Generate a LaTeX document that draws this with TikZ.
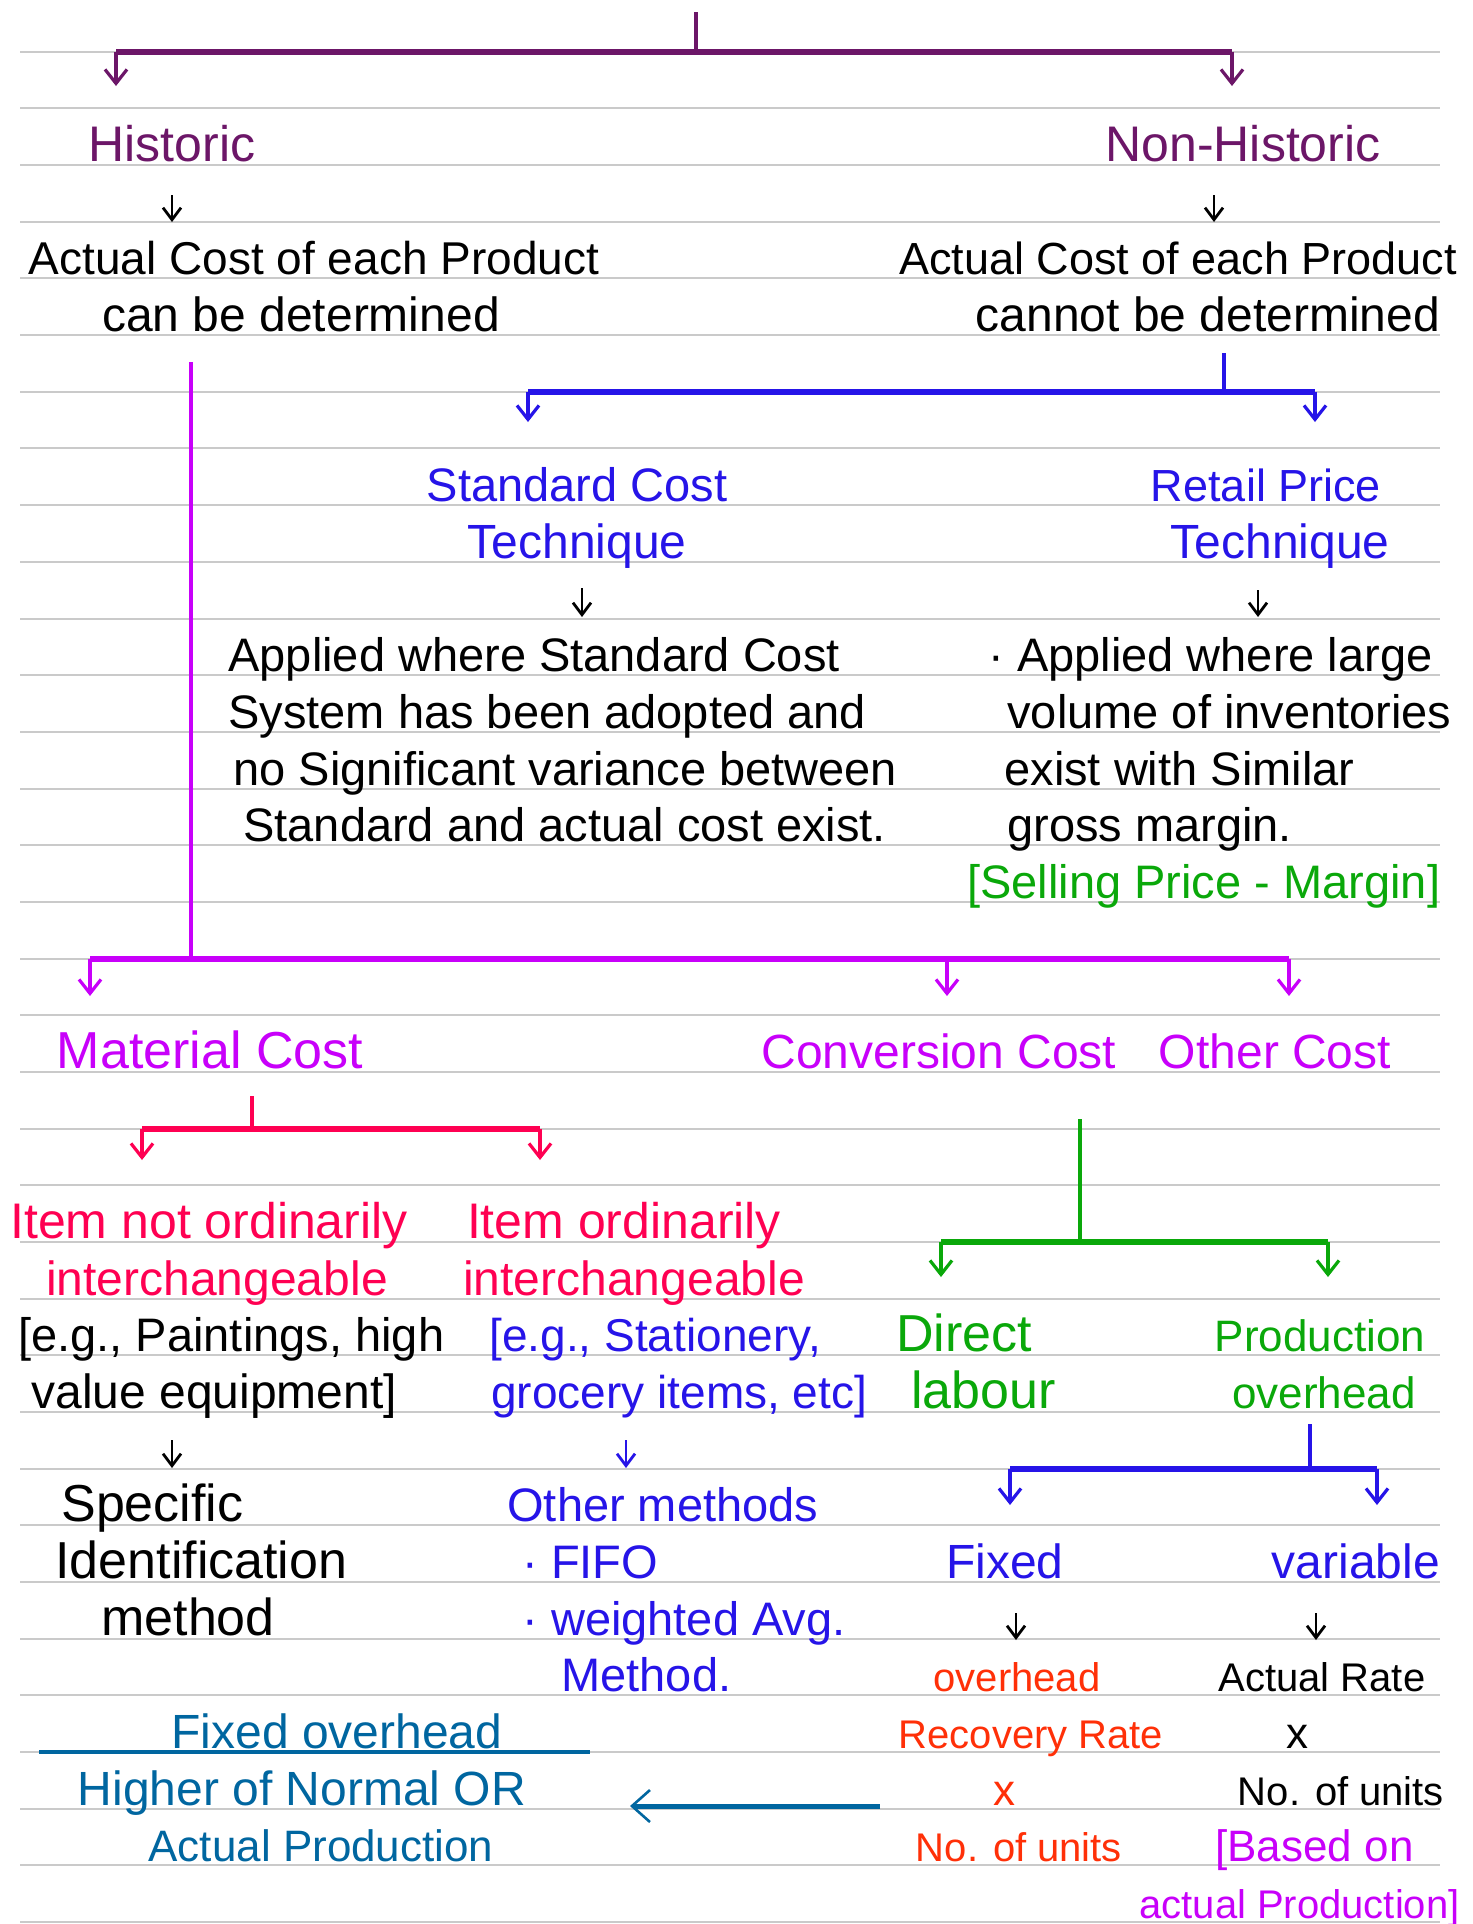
\documentclass[tikz,border=0pt]{standalone}
\usepackage{fontspec}
\setmainfont{Liberation Sans}
\usetikzlibrary{arrows.meta}
\newcommand\handsize[1]{\fontsize{#1}{#1}\selectfont}
\definecolor{rulegray}{RGB}{202,202,202}
\definecolor{plum}{RGB}{108,22,104}
\definecolor{inkblue}{RGB}{38,20,232}
\definecolor{inkviolet}{RGB}{200,0,250}
\definecolor{inkpink}{RGB}{255,0,82}
\definecolor{inkgreen}{RGB}{10,168,10}
\definecolor{inkred}{RGB}{255,48,8}
\definecolor{inksteel}{RGB}{0,102,160}
\tikzstyle{ruling}=[draw=rulegray, line width=1pt]
\tikzstyle{stem}=[line width=1.6pt]
\tikzstyle{bar}=[line width=3pt]
\tikzstyle{branch}=[line width=1.6pt, -{Straight Barb[length=7pt,width=11pt]}]
\tikzstyle{pointer}=[line width=1.4pt, -{Straight Barb[length=6pt,width=9pt]}]
\tikzstyle{note}=[inner sep=0pt, anchor=base, font=\handsize{24}]
\tikzstyle{left note}=[note, anchor=base west]

\begin{document}
\begin{tikzpicture}[x=0.5pt, y=-0.5pt]
  \fill[white] (0,0) rectangle (1473,1924);
  \useasboundingbox (0,0) rectangle (1473,1924);
  % ruled page
  \foreach \k in {0,...,33}
    \draw[ruling] (20,51.7+56.68*\k) -- (1440,51.7+56.68*\k);

  % historic / non-historic split
  \coordinate (root) at (696,12);
  \coordinate (root bar) at (696,51.7);
  \coordinate (hist bar) at (116,51.7);
  \coordinate (hist tip) at (116,86);
  \coordinate (nonhist bar) at (1232,51.7);
  \coordinate (nonhist tip) at (1232,86);
  \draw[plum, stem] (root) -- (root bar);
  \draw[plum, bar] (hist bar) -- (nonhist bar);
  \draw[plum, branch] (hist bar) -- (hist tip);
  \draw[plum, branch] (nonhist bar) -- (nonhist tip);

  \node[note, plum, font=\handsize{25}] (hist) at (172,161) {Historic};
  \node[note, plum, font=\handsize{25}] (nonhist) at (1243,161) {Non-Historic};
  \coordinate (hist ptr) at (172,195);
  \coordinate (hist ptr tip) at (172,222);
  \coordinate (nonhist ptr) at (1214,195);
  \coordinate (nonhist ptr tip) at (1214,222);
  \draw[pointer] (hist ptr) -- (hist ptr tip);
  \draw[pointer] (nonhist ptr) -- (nonhist ptr tip);

  \node[note, font=\handsize{23}] (hist cost) at (314,274) {Actual Cost of each Product};
  \node[note] (hist can) at (301,331) {can be determined};
  \node[note, font=\handsize{22.5}] (nonhist cost) at (1178,274) {Actual Cost of each Product};
  \node[note] (nonhist cannot) at (1208,331) {cannot be determined};

  % techniques
  \coordinate (tech root) at (1224,353);
  \coordinate (tech bar) at (1224,391.8);
  \coordinate (std bar) at (528,391.8);
  \coordinate (std tip) at (528,422);
  \coordinate (ret bar) at (1315,391.8);
  \coordinate (ret tip) at (1315,422);
  \draw[inkblue, stem] (tech root) -- (tech bar);
  \draw[inkblue, bar] (std bar) -- (ret bar);
  \draw[inkblue, branch] (std bar) -- (std tip);
  \draw[inkblue, branch] (ret bar) -- (ret tip);

  \node[note, inkblue, font=\handsize{23.5}] (std name) at (577,501) {Standard Cost};
  \node[note, inkblue] (std tech) at (577,558) {Technique};
  \node[note, inkblue, font=\handsize{22.5}] (ret name) at (1266,501) {Retail Price};
  \node[note, inkblue] (ret tech) at (1280,558) {Technique};
  \coordinate (std ptr) at (582,588);
  \coordinate (std ptr tip) at (582,617);
  \coordinate (ret ptr) at (1258,590);
  \coordinate (ret ptr tip) at (1258,617);
  \draw[pointer] (std ptr) -- (std ptr tip);
  \draw[pointer] (ret ptr) -- (ret ptr tip);

  \node[left note, font=\handsize{23.5}] (std line 1) at (228,671) {Applied where Standard Cost};
  \node[left note, font=\handsize{23.5}] (std line 2) at (228,728) {System has been adopted and};
  \node[left note, font=\handsize{23.5}] (std line 3) at (233,785) {no Significant variance between};
  \node[left note, font=\handsize{23.5}] (std line 4) at (243,841) {Standard and actual cost exist.};
  \node[left note, font=\handsize{23.5}] (ret line 1) at (988,671) {· Applied where large};
  \node[left note, font=\handsize{23.5}] (ret line 2) at (1007,728) {volume of inventories};
  \node[left note, font=\handsize{23.5}] (ret line 3) at (1004,785) {exist with Similar};
  \node[left note, font=\handsize{23.5}] (ret line 4) at (1007,841) {gross margin.};
  \node[left note, inkgreen, font=\handsize{23.5}] (ret margin) at (967,898) {[Selling Price - Margin]};

  % cost heads
  \coordinate (cost root) at (191,362);
  \coordinate (cost bar) at (191,958.6);
  \coordinate (mat bar) at (90,958.6);
  \coordinate (mat tip) at (90,996);
  \coordinate (conv bar) at (947,958.6);
  \coordinate (conv tip) at (947,996);
  \coordinate (oth bar) at (1289,958.6);
  \coordinate (oth tip) at (1289,996);
  \draw[inkviolet, stem] (cost root) -- (cost bar);
  \draw[inkviolet, bar] (mat bar) -- (oth bar);
  \draw[inkviolet, branch] (mat bar) -- (mat tip);
  \draw[inkviolet, branch] (conv bar) -- (conv tip);
  \draw[inkviolet, branch] (oth bar) -- (oth tip);

  \node[note, inkviolet, font=\handsize{26}] (mat) at (210,1068) {Material Cost};
  \node[note, inkviolet] (conv) at (939,1068) {Conversion Cost};
  \node[note, inkviolet] (oth) at (1275,1068) {Other Cost};

  % material cost
  \coordinate (item root) at (252,1096);
  \coordinate (item bar) at (252,1128.6);
  \coordinate (notord bar) at (142,1128.6);
  \coordinate (notord tip) at (142,1160);
  \coordinate (ord bar) at (540,1128.6);
  \coordinate (ord tip) at (540,1160);
  \draw[inkpink, stem] (item root) -- (item bar);
  \draw[inkpink, bar] (notord bar) -- (ord bar);
  \draw[inkpink, branch] (notord bar) -- (notord tip);
  \draw[inkpink, branch] (ord bar) -- (ord tip);

  \node[note, inkpink, font=\handsize{25}] (notord 1) at (209,1238) {Item not ordinarily};
  \node[note, inkpink] (notord 2) at (217,1295) {interchangeable};
  \node[note, inkpink, font=\handsize{25}] (ord 1) at (624,1238) {Item ordinarily};
  \node[note, inkpink] (ord 2) at (634,1295) {interchangeable};
  \node[left note, font=\handsize{23.5}] (paint 1) at (18,1351) {[e.g., Paintings, high};
  \node[left note] (paint 2) at (31,1408) {value equipment]};
  \node[left note, inkblue, font=\handsize{23}] (groc 1) at (489,1351) {[e.g., Stationery,};
  \node[left note, inkblue, font=\handsize{23}] (groc 2) at (491,1408) {grocery items, etc]};
  \coordinate (paint ptr) at (172,1440);
  \coordinate (paint ptr tip) at (172,1468);
  \coordinate (groc ptr) at (626,1440);
  \coordinate (groc ptr tip) at (626,1468);
  \draw[pointer] (paint ptr) -- (paint ptr tip);
  \draw[pointer, inkblue] (groc ptr) -- (groc ptr tip);

  \node[left note, font=\handsize{26}] (spec 1) at (61,1521) {Specific};
  \node[left note, font=\handsize{26}] (spec 2) at (55,1578) {Identification};
  \node[left note, font=\handsize{26}] (spec 3) at (101,1635) {method};
  \node[left note, inkblue, font=\handsize{23.5}] (other 1) at (507,1521) {Other methods};
  \node[left note, inkblue, font=\handsize{23.5}] (other 2) at (522,1578) {· FIFO};
  \node[left note, inkblue, font=\handsize{23.5}] (other 3) at (522,1635) {· weighted Avg.};
  \node[left note, inkblue, font=\handsize{23.5}] (other 4) at (561,1691) {Method.};

  % conversion cost
  \coordinate (conv root) at (1080,1119);
  \coordinate (conv split) at (1080,1242);
  \coordinate (dl bar) at (941,1242);
  \coordinate (dl tip) at (941,1277);
  \coordinate (po bar) at (1328,1242);
  \coordinate (po tip) at (1328,1277);
  \draw[inkgreen, stem] (conv root) -- (conv split);
  \draw[inkgreen, bar] (dl bar) -- (po bar);
  \draw[inkgreen, branch] (dl bar) -- (dl tip);
  \draw[inkgreen, branch] (po bar) -- (po tip);

  \node[left note, inkgreen, font=\handsize{26}] (dl 1) at (896,1351) {Direct};
  \node[left note, inkgreen, font=\handsize{26}] (dl 2) at (911,1408) {labour};
  \node[note, inkgreen, font=\handsize{22}] (po 1) at (1320,1351) {Production};
  \node[note, inkgreen, font=\handsize{22}] (po 2) at (1324,1408) {overhead};

  % production overhead
  \coordinate (po root) at (1310,1424);
  \coordinate (po split) at (1310,1468.7);
  \coordinate (fix bar) at (1010,1468.7);
  \coordinate (fix tip) at (1010,1505);
  \coordinate (var bar) at (1377,1468.7);
  \coordinate (var tip) at (1377,1505);
  \draw[inkblue, stem] (po root) -- (po split);
  \draw[inkblue, bar] (fix bar) -- (var bar);
  \draw[inkblue, branch] (fix bar) -- (fix tip);
  \draw[inkblue, branch] (var bar) -- (var tip);

  \node[note, inkblue] (fix) at (1005,1578) {Fixed};
  \node[note, inkblue] (var) at (1356,1578) {variable};
  \coordinate (fix ptr) at (1016,1613);
  \coordinate (fix ptr tip) at (1016,1640);
  \coordinate (var ptr) at (1316,1613);
  \coordinate (var ptr tip) at (1316,1640);
  \draw[pointer] (fix ptr) -- (fix ptr tip);
  \draw[pointer] (var ptr) -- (var ptr tip);

  \node[note, inkred, font=\handsize{20}] (fix rate 1) at (1017,1691) {overhead};
  \node[note, inkred, font=\handsize{20}] (fix rate 2) at (1031,1748) {Recovery Rate};
  \node[note, inkred, font=\handsize{22}] (fix rate 3) at (1004,1805) {x};
  \node[note, inkred, font=\handsize{20}] (fix rate 4) at (1019,1861) {No. of units};
  \node[note, font=\handsize{20}] (var rate 1) at (1322,1691) {Actual Rate};
  \node[note, font=\handsize{22}] (var rate 2) at (1297,1748) {x};
  \node[note, font=\handsize{20}] (var rate 3) at (1341,1805) {No. of units};
  \node[left note, inkviolet, font=\handsize{22}] (var rate 4) at (1215,1861) {[Based on};
  \node[left note, inkviolet, font=\handsize{20}] (var rate 5) at (1139,1918) {actual Production]};

  % fixed overhead note
  \node[note, inksteel] (fo head) at (337,1748) {Fixed overhead};
  \node[note, inksteel] (fo line 1) at (302,1805) {Higher of Normal OR};
  \node[note, inksteel, font=\handsize{22}] (fo line 2) at (321,1861) {Actual Production};
  \coordinate (fo rule start) at (39,1752);
  \coordinate (fo rule end) at (590,1752);
  \draw[inksteel, line width=2pt] (fo rule start) -- (fo rule end);
  \coordinate (fo from) at (880,1806);
  \coordinate (fo to) at (630,1806);
  \draw[inksteel, line width=2.5pt, -{Straight Barb[length=9pt,width=16pt,line width=1.3pt]}] (fo from) -- (fo to);
\end{tikzpicture}
\end{document}
